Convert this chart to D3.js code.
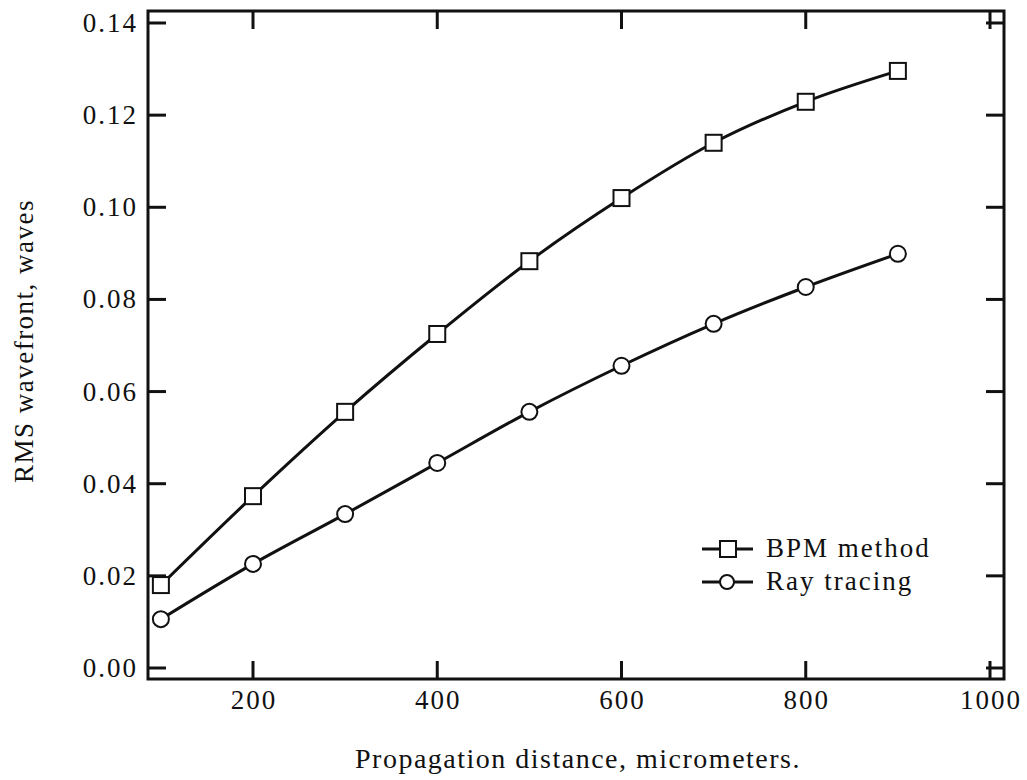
<!DOCTYPE html>
<html>
<head>
<meta charset="utf-8">
<script src="https://cdn.jsdelivr.net/npm/d3@7"></script>
<style>
  body { margin: 0; background: #fff; }
  text { font-family: 'Liberation Serif', 'DejaVu Serif', serif; fill: #111; }
</style>
</head>
<body>
<div id="chart"></div>
<script>
  const distances = [100, 200, 300, 400, 500, 600, 700, 800, 900];
  const bpm = [0.018, 0.0373, 0.0556, 0.0725, 0.0883, 0.102, 0.114, 0.1229, 0.1296];
  const ray = [0.0106, 0.0226, 0.0334, 0.0445, 0.0556, 0.0656, 0.0747, 0.0827, 0.0899];
  const xTicks = [200, 400, 600, 800, 1000];
  const yTicks = [0, 0.02, 0.04, 0.06, 0.08, 0.10, 0.12, 0.14];

  const width = 1027;
  const height = 780;

  // frame of the plot in pixels
  const frame = { left: 148, right: 1004, top: 11, bottom: 679 };

  const xScale = d3.scaleLinear()
    .domain([200, 1000])
    .range([253, 990]);

  const yScale = d3.scaleLinear()
    .domain([0, 0.14])
    .range([668, 23]);

  const svg = d3.select('#chart').append('svg')
    .attr('width', width)
    .attr('height', height);

  const ink = '#111';
  const tickLen = 18;
  const spacing = 2;

  svg.append('rect')
    .attr('x', frame.left)
    .attr('y', frame.top)
    .attr('width', frame.right - frame.left)
    .attr('height', frame.bottom - frame.top)
    .attr('fill', 'none')
    .attr('stroke', ink)
    .attr('stroke-width', 3);

  // inward ticks on all four sides
  yTicks.forEach(function (t) {
    const y = yScale(t);
    svg.append('line')
      .attr('x1', frame.left).attr('x2', frame.left + tickLen)
      .attr('y1', y).attr('y2', y)
      .attr('stroke', ink).attr('stroke-width', 3);
    svg.append('line')
      .attr('x1', frame.right).attr('x2', frame.right - tickLen)
      .attr('y1', y).attr('y2', y)
      .attr('stroke', ink).attr('stroke-width', 3);
    svg.append('text')
      .attr('x', 136 + spacing)
      .attr('y', y + 9)
      .attr('text-anchor', 'end')
      .attr('font-size', 27)
      .attr('letter-spacing', spacing)
      .text(t.toFixed(2));
  });

  xTicks.forEach(function (t) {
    const x = xScale(t);
    svg.append('line')
      .attr('x1', x).attr('x2', x)
      .attr('y1', frame.bottom).attr('y2', frame.bottom - tickLen)
      .attr('stroke', ink).attr('stroke-width', 3);
    svg.append('line')
      .attr('x1', x).attr('x2', x)
      .attr('y1', frame.top).attr('y2', frame.top + tickLen)
      .attr('stroke', ink).attr('stroke-width', 3);
    svg.append('text')
      .attr('x', x + spacing / 2)
      .attr('y', 709)
      .attr('text-anchor', 'middle')
      .attr('font-size', 27)
      .attr('letter-spacing', spacing)
      .text(t);
  });

  svg.append('text')
    .attr('transform', 'translate(33, 341) rotate(-90)')
    .attr('text-anchor', 'middle')
    .attr('font-size', 27)
    .attr('letter-spacing', 1.5)
    .text('RMS wavefront, waves');

  svg.append('text')
    .attr('x', 578)
    .attr('y', 768)
    .attr('text-anchor', 'middle')
    .attr('font-size', 28)
    .attr('letter-spacing', 1.5)
    .text('Propagation distance, micrometers.');

  const line = d3.line()
    .x(d => xScale(d[0]))
    .y(d => yScale(d[1]))
    .curve(d3.curveMonotoneX);

  const bpmData = distances.map((d, i) => [d, bpm[i]]);
  const rayData = distances.map((d, i) => [d, ray[i]]);

  svg.append('path')
    .datum(bpmData)
    .attr('d', line)
    .attr('fill', 'none')
    .attr('stroke', ink)
    .attr('stroke-width', 3);

  svg.append('path')
    .datum(rayData)
    .attr('d', line)
    .attr('fill', 'none')
    .attr('stroke', ink)
    .attr('stroke-width', 3);

  const sq = 16;
  svg.selectAll('.bpm-mark')
    .data(bpmData)
    .enter()
    .append('rect')
    .classed('bpm-mark', true)
    .attr('x', d => xScale(d[0]) - sq / 2)
    .attr('y', d => yScale(d[1]) - sq / 2)
    .attr('width', sq)
    .attr('height', sq)
    .attr('fill', '#fff')
    .attr('stroke', ink)
    .attr('stroke-width', 2);

  svg.selectAll('.ray-mark')
    .data(rayData)
    .enter()
    .append('circle')
    .classed('ray-mark', true)
    .attr('cx', d => xScale(d[0]))
    .attr('cy', d => yScale(d[1]))
    .attr('r', 8)
    .attr('fill', '#fff')
    .attr('stroke', ink)
    .attr('stroke-width', 2);

  // legend
  const legend = svg.append('g').attr('transform', 'translate(702, 549)');
  legend.append('line')
    .attr('x1', 0).attr('x2', 51).attr('y1', 0).attr('y2', 0)
    .attr('stroke', ink).attr('stroke-width', 3);
  legend.append('rect')
    .attr('x', 26 - 8).attr('y', -8).attr('width', 16).attr('height', 16)
    .attr('fill', '#fff').attr('stroke', ink).attr('stroke-width', 2);
  legend.append('text')
    .attr('x', 64).attr('y', 8)
    .attr('font-size', 27)
    .attr('letter-spacing', spacing)
    .text('BPM method');

  legend.append('line')
    .attr('x1', 0).attr('x2', 51).attr('y1', 33).attr('y2', 33)
    .attr('stroke', ink).attr('stroke-width', 3);
  legend.append('circle')
    .attr('cx', 25).attr('cy', 33).attr('r', 7)
    .attr('fill', '#fff').attr('stroke', ink).attr('stroke-width', 2);
  legend.append('text')
    .attr('x', 64).attr('y', 41)
    .attr('font-size', 27)
    .attr('letter-spacing', spacing)
    .text('Ray tracing');
</script>
</body>
</html>
